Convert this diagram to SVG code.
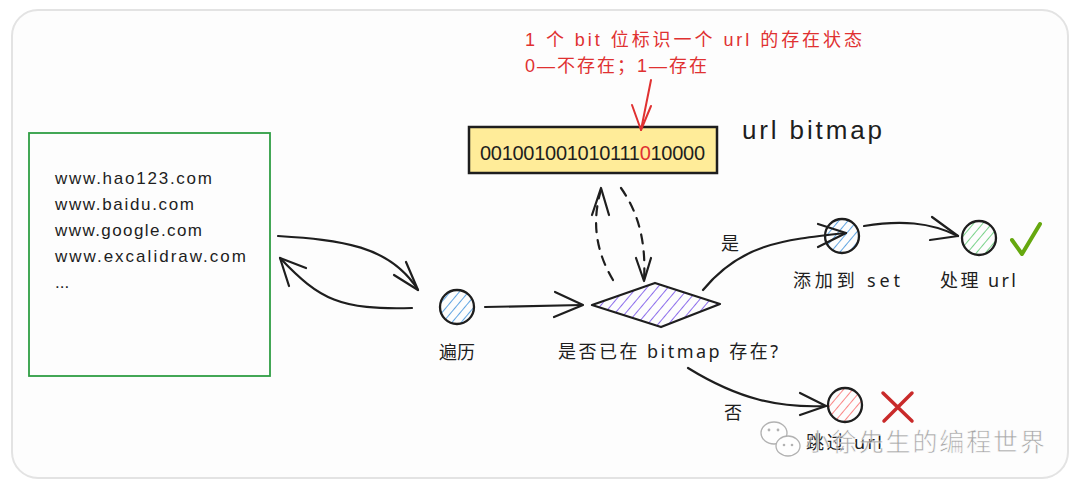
<svg xmlns="http://www.w3.org/2000/svg" width="1080" height="488" viewBox="0 0 1080 488">
<defs>
<style>
.t{font-family:"Noto Sans","Noto Sans CJK SC",sans-serif;fill:#1e1e1e}
.hand{font-family:"Liberation Sans","Noto Sans CJK SC",sans-serif;fill:#1e1e1e}
.red{fill:#e03131}
.ln{fill:none;stroke:#1e1e1e;stroke-width:2.2;stroke-linecap:round;stroke-linejoin:round}
.dash{stroke-dasharray:9 8}
.node{stroke:#1e1e1e;stroke-width:2.3}
</style>
<pattern id="hb" patternUnits="userSpaceOnUse" width="7" height="7" patternTransform="rotate(40)"><line x1="0" y1="0" x2="0" y2="7" stroke="#1c7ed6" stroke-width="1.4"/></pattern>
<pattern id="hg" patternUnits="userSpaceOnUse" width="7" height="7" patternTransform="rotate(40)"><line x1="0" y1="0" x2="0" y2="7" stroke="#40c057" stroke-width="1.4"/></pattern>
<pattern id="hr" patternUnits="userSpaceOnUse" width="7" height="7" patternTransform="rotate(40)"><line x1="0" y1="0" x2="0" y2="7" stroke="#fa5252" stroke-width="1.4"/></pattern>
<pattern id="hp" patternUnits="userSpaceOnUse" width="8" height="8" patternTransform="rotate(40)"><line x1="0" y1="0" x2="0" y2="8" stroke="#7048e8" stroke-width="1.6"/></pattern>
</defs>
<rect x="12" y="10" width="1056" height="468" rx="26" fill="#fdfdfd" stroke="#e3e3e3" stroke-width="2"/>

<g id="url-list">
<rect x="29" y="133" width="241" height="243" fill="none" stroke="#2f9e44" stroke-width="1.8"/>
<text class="hand" font-size="17" x="55" y="184" textLength="157" lengthAdjust="spacing">www.hao123.com</text>
<text class="hand" font-size="17" x="55" y="210" textLength="139" lengthAdjust="spacing">www.baidu.com</text>
<text class="hand" font-size="17" x="55" y="236" textLength="147" lengthAdjust="spacing">www.google.com</text>
<text class="hand" font-size="17" x="55" y="262" textLength="191" lengthAdjust="spacing">www.excalidraw.com</text>
<text class="hand" font-size="17" x="55" y="288">...</text>
</g>

<g id="bitmap">
<rect x="469" y="127" width="248" height="46" fill="#ffec99" stroke="#1e1e1e" stroke-width="2.5"/>
<text class="hand" font-size="20" x="480" y="160" textLength="225" lengthAdjust="spacing">001001001010111<tspan fill="#e03131">0</tspan>10000</text>
<text class="hand" font-size="26" x="742" y="139" textLength="140" lengthAdjust="spacing">url bitmap</text>
</g>

<g id="note">
<text class="hand red" font-size="18" x="525" y="46" textLength="337" lengthAdjust="spacing">1 个 bit 位标识一个 url 的存在状态</text>
<text class="hand red" font-size="18" x="525" y="72" textLength="182" lengthAdjust="spacing">0—不存在；1—存在</text>
</g>

<g id="traverse">
<circle cx="457" cy="307" r="17" fill="url(#hb)" class="node"/>
<text class="t" font-size="18" x="457" y="359" text-anchor="middle">遍历</text>
</g>

<g id="check">
<path d="M592,305 L655,283 L720,304 L661,327 Z" fill="url(#hp)" class="node" stroke-linejoin="round"/>
<text class="t" font-size="18" x="558" y="358" textLength="220" lengthAdjust="spacing">是否已在 bitmap 存在?</text>
</g>

<g id="add-set">
<circle cx="842" cy="236" r="17" fill="url(#hb)" class="node"/>
<text class="t" font-size="18" x="793" y="287" textLength="107" lengthAdjust="spacing">添加到 set</text>
</g>

<g id="process">
<circle cx="979" cy="238" r="17" fill="url(#hg)" class="node"/>
<text class="t" font-size="18" x="940" y="287" textLength="76" lengthAdjust="spacing">处理 url</text>
<path d="M1012,240 L1022,254 L1040,224" fill="none" stroke="#66a80f" stroke-width="4" stroke-linecap="round" stroke-linejoin="round"/>
</g>

<g id="skip">
<circle cx="845" cy="405" r="17" fill="url(#hr)" class="node"/>
<text class="t" font-size="18" x="806" y="449" textLength="76" lengthAdjust="spacing">跳过 url</text>
<path d="M883,393 L912,421 M912,393 L884,421" fill="none" stroke="#c92a2a" stroke-width="3.5" stroke-linecap="round"/>
</g>

<g id="connectors">
<path class="ln" d="M278,236 C340,240 390,245 418,290"/>
<path class="ln" d="M406,262 L418,290 L394,275"/>
<path class="ln" d="M412,308 C340,310 320,300 280,258"/>
<path class="ln" d="M306,268 L280,258 L289,286"/>
<path class="ln" d="M485,307 L582,305"/>
<path class="ln" d="M555,292 L583,305 L554,317"/>
<path class="ln dash" d="M613,280 C595,250 592,220 601,190"/>
<path class="ln" d="M592,215 L601,188 L609,215"/>
<path class="ln dash" d="M621,188 C640,215 646,245 644,280"/>
<path class="ln" d="M636,258 L644,281 L651,258"/>
<path class="ln" d="M703,290 C740,245 780,240 846,233"/>
<path class="ln" d="M818,224 L846,233 L818,247"/>
<path class="ln" d="M864,226 C900,220 930,222 958,236"/>
<path class="ln" d="M932,217 L958,236 L930,240"/>
<path class="ln" d="M688,368 C740,400 780,408 826,406"/>
<path class="ln" d="M800,393 L826,406 L800,415"/>
<path d="M651,80 L641,130" fill="none" stroke="#e03131" stroke-width="2" stroke-linecap="round"/>
<path d="M632,105 L641,130 L651,106" fill="none" stroke="#e03131" stroke-width="2" stroke-linecap="round" stroke-linejoin="round"/>
<text class="t" font-size="18" x="730" y="250" text-anchor="middle">是</text>
<text class="t" font-size="18" x="733" y="419" text-anchor="middle">否</text>
</g>

<g id="watermark" opacity="0.75">
<ellipse cx="774" cy="433" rx="13" ry="11" fill="#fff" stroke="#999" stroke-width="1.3"/>
<ellipse cx="788" cy="446" rx="12" ry="10" fill="#fff" stroke="#999" stroke-width="1.3"/>
<circle cx="769" cy="430" r="1.4" fill="#999"/><circle cx="778" cy="430" r="1.4" fill="#999"/>
<circle cx="784" cy="445" r="1.3" fill="#999"/><circle cx="792" cy="445" r="1.3" fill="#999"/>
<text font-family="'Noto Sans CJK SC',sans-serif" font-size="25" x="805" y="451" textLength="240" lengthAdjust="spacing" fill="#8a8a8a" stroke="#fff" stroke-width="0.6">小徐先生的编程世界</text>
</g>
</svg>
